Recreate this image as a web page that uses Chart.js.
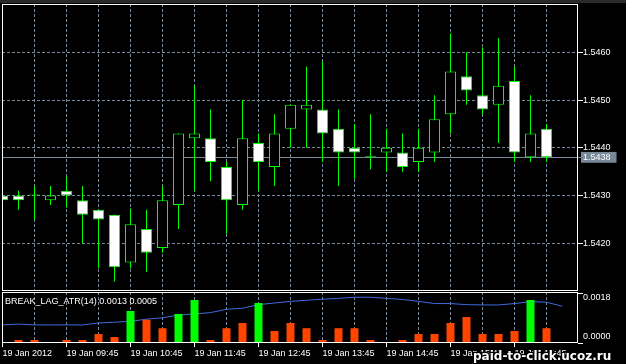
<!DOCTYPE html>
<html>
<head>
<meta charset="utf-8">
<script src="https://cdn.jsdelivr.net/npm/chart.js@4.4.1/dist/chart.umd.min.js"></script>
<style>
  html,body{margin:0;padding:0;background:#000;}
  #wrap{position:relative;width:626px;height:364px;overflow:hidden;background:#000;}
  #topbar{position:absolute;left:0;top:0;width:626px;height:3px;background:#2a2a2a;}
  canvas{position:absolute;left:0;}
  #wm{position:absolute;left:473px;top:349px;font:bold 12px "DejaVu Sans",sans-serif;color:#fff;
      text-shadow:1px 1px 0 #000,-1px -1px 0 #000,1px -1px 0 #000,-1px 1px 0 #000,2px 2px 0 #000;white-space:nowrap;}
</style>
</head>
<body>
<div id="wrap">
  <div id="topbar"></div>
  <canvas id="main" width="626" height="292" style="top:0"></canvas>
  <canvas id="sub" width="626" height="72" style="top:292px"></canvas>
  <div id="wm">paid-to-click.ucoz.ru</div>
</div>
<script>
// ---------------- data (M15 bars, 19 Jan 2012) ----------------
const timeLabels = ['19 Jan 2012','19 Jan 09:45','19 Jan 10:45','19 Jan 11:45','19 Jan 12:45',
                    '19 Jan 13:45','19 Jan 14:45','19 Jan 15:45','19 Jan 16:45'];
const labelSlots = [0,4,8,12,16,20,24,28,32];
const gridSlots  = [0,2,4,6,8,10,12,14,16,18,20,22,24,26,28,30,32,34];

const opens  = [1.5430,1.5430,1.5430,1.5429,1.5431,1.5429,1.5427,1.5426,1.5416,1.5423,
                1.5419,1.5428,1.5442,1.5442,1.5436,1.5428,1.5441,1.5436,1.5444,1.5448,
                1.5448,1.5444,1.5440,1.5438,1.5439,1.5439,1.5437,1.5439,1.5447,1.5455,
                1.5451,1.5449,1.5454,1.5438,1.5444];
const highs  = [1.5431,1.5431,1.5432,1.5432,1.5434,1.5432,1.5427,1.5426,1.54273,1.5427,
                1.5432,1.5443,1.5453,1.5448,1.5437,1.5450,1.5443,1.5447,1.5449,1.5457,
                1.5458,1.5448,1.5445,1.5447,1.5444,1.5443,1.5444,1.5451,1.5464,1.5460,
                1.5461,1.5463,1.5457,1.5451,1.5445];
const lows   = [1.5428,1.5427,1.5425,1.5428,1.54275,1.5420,1.54148,1.5412,1.54148,1.5414,
                1.5418,1.5423,1.5431,1.5433,1.5422,1.5427,1.5431,1.5432,1.5440,1.5440,
                1.5437,1.5432,1.54335,1.54355,1.5435,1.5435,1.5435,1.5437,1.5443,1.5449,
                1.5447,1.5441,1.5437,1.5437,1.5437];
const closes = [1.5429,1.5429,1.5430,1.5430,1.5430,1.5426,1.5425,1.5415,1.5424,1.5418,
                1.5429,1.5443,1.5443,1.5437,1.5429,1.5442,1.5437,1.5443,1.5449,1.5449,
                1.5443,1.5439,1.5439,1.5438,1.5440,1.5436,1.5440,1.5446,1.5456,1.5452,
                1.5448,1.5453,1.5439,1.5443,1.5438];

// BREAK_LAG_ATR(14) histogram buffers (green = up, orange = down)
const histUp   = [null,null,null,null,null,null,null,null,0.00117,null,
                  null,0.00106,0.00157,null,null,null,0.00146,null,null,null,
                  null,null,null,null,null,null,null,null,null,null,
                  null,null,null,0.00157,null];
const histDown = [null,0.00011,0.00011,null,0.00011,0.00011,0.00033,0.00022,null,0.00085,
                  0.00054,null,null,0.00011,0.00054,0.00073,null,0.00044,0.00073,0.00054,
                  0.00011,0.00054,0.00054,0.00011,null,0.00011,0.00033,0.00033,0.00073,0.00095,
                  0.00033,0.00033,0.00044,null,0.00054];
// ATR line, drawn with a one-bar shift (36 slots)
const atrLine = [0.00066,0.00069,0.00066,0.00066,0.00066,0.00066,0.00073,0.00076,0.00079,0.00087,
                 0.00092,0.00102,0.00106,0.00111,0.00123,0.00127,0.00140,0.00146,0.00152,0.00156,
                 0.00160,0.00163,0.00167,0.00167,0.00163,0.00159,0.00152,0.00144,0.00144,0.00140,
                 0.00139,0.00139,0.00144,0.00151,0.00149,0.00134];

const priceTicks = [1.5420,1.5430,1.5440,1.5450,1.5460];
const subTicks   = [0,0.0018];

// ---------------- styles ----------------
const LIME='#00FF00', ORANGE='#FF4500', BLUE='#4169E1', GRID='#778899', WHITE='#FFFFFF';
const FONT='"Liberation Sans", Arial, sans-serif';
const XMIN=-0.03125, XMAX=35.96875;
const lastClose = closes[closes.length-1];
const idx = opens.map((_,i)=>i);

const framePlugin = {
  id:'frame',
  afterDraw(chart){
    const {ctx, chartArea:a} = chart;
    ctx.save();
    ctx.strokeStyle=WHITE; ctx.lineWidth=1; ctx.setLineDash([]);
    ctx.strokeRect(a.left+0.5, a.top+0.5, a.right-a.left-1, a.bottom-a.top-1);
    ctx.restore();
  }
};
function noPad(s){ s.paddingTop=0; s.paddingBottom=0; s.paddingLeft=0; s.paddingRight=0; }

// ---------------- main price chart ----------------
new Chart(document.getElementById('main'), {
  type:'bar',
  data:{
    datasets:[
      {
        label:'body',
        data: idx.map(i=>({x:i, y:[opens[i], closes[i]]})),
        backgroundColor: ctx => {
          const i = ctx.dataIndex;
          if (i === undefined) return WHITE;
          return closes[i] > opens[i] ? '#000000' : (closes[i] < opens[i] ? WHITE : LIME);
        },
        borderColor: LIME, borderWidth:1, borderSkipped:false,
        barThickness:11, grouped:false, minBarLength:1, inflateAmount:0, order:1
      },
      {
        label:'wick',
        data: idx.map(i=>({x:i, y:[lows[i], highs[i]]})),
        backgroundColor: LIME, borderWidth:0,
        barThickness:1, grouped:false, inflateAmount:0, order:2
      }
    ]
  },
  options:{
    responsive:false, animation:false, devicePixelRatio:1,
    layout:{padding:{left:2, top:4, right:0, bottom:1}},
    plugins:{legend:{display:false}, tooltip:{enabled:false}},
    scales:{
      x:{
        type:'linear', min:XMIN, max:XMAX, offset:false,
        afterBuildTicks: s => { s.ticks = gridSlots.map(v=>({value:v})); },
        ticks:{display:false},
        grid:{color:GRID, drawTicks:false, offset:false},
        border:{display:false, dash:[3,2]},
        afterFit: s => { s.height = 0; noPad(s); }
      },
      y:{
        position:'right', min:1.5410010, max:1.5470115,
        afterBuildTicks: s => { s.ticks = priceTicks.concat([lastClose]).map(v=>({value:v})); },
        ticks:{
          color:WHITE, padding:0, autoSkip:false,
          font:{family:FONT, size:9},
          callback: v => Number(v).toFixed(4),
          showLabelBackdrop: ctx => !!(ctx.tick && ctx.tick.value === lastClose),
          backdropColor: GRID,
          backdropPadding:{left:2, right:6, top:0, bottom:0}
        },
        grid:{
          color: GRID,
          tickColor: ctx => (ctx.tick && ctx.tick.value === lastClose) ? GRID : WHITE,
          tickLength:5
        },
        border:{display:false, dash: ctx => (ctx.tick && ctx.tick.value === lastClose) ? [] : [3,2]},
        afterFit: s => { s.width = 48; noPad(s); }
      }
    }
  },
  plugins:[framePlugin]
});

// ---------------- indicator sub-window ----------------
const indName = 'BREAK_LAG_ATR(14)';
const lastHist = histDown[histDown.length-1] ?? histUp[histUp.length-1];
const indLabel = indName + ' ' + atrLine[atrLine.length-1].toFixed(4) + ' ' + lastHist.toFixed(4);

const labelPlugin = {
  id:'indlabel',
  afterDraw(chart){
    const {ctx, chartArea:a} = chart;
    ctx.save();
    ctx.fillStyle=WHITE; ctx.font='9px '+FONT; ctx.textBaseline='middle'; ctx.textAlign='left';
    ctx.fillText(indLabel, a.left+3, a.top+10);
    ctx.restore();
  }
};

new Chart(document.getElementById('sub'), {
  type:'bar',
  data:{
    datasets:[
      {label:'up', data: idx.map(i=>({x:i, y:histUp[i]})), backgroundColor:LIME,
       barThickness:8, grouped:false, inflateAmount:0, borderWidth:0, order:1},
      {label:'down', data: idx.map(i=>({x:i, y:histDown[i]})), backgroundColor:ORANGE,
       barThickness:8, grouped:false, inflateAmount:0, borderWidth:0, order:1},
      {type:'line', label:'atr', data: atrLine.map((v,i)=>({x:i, y:v})), borderColor:BLUE,
       borderWidth:1, pointRadius:0, tension:0, fill:false, order:3}
    ]
  },
  options:{
    responsive:false, animation:false, devicePixelRatio:1,
    layout:{padding:{left:2, top:0, right:0, bottom:0}},
    plugins:{legend:{display:false}, tooltip:{enabled:false}},
    scales:{
      x:{
        type:'linear', min:XMIN, max:XMAX, offset:false,
        afterBuildTicks: s => { s.ticks = gridSlots.map(v=>({value:v})); },
        ticks:{
          color:WHITE, autoSkip:false, maxRotation:0, minRotation:0, align:'start', padding:1,
          font:{family:FONT, size:9},
          callback: v => { const j = labelSlots.indexOf(v); return j >= 0 ? timeLabels[j] : ''; }
        },
        grid:{color:GRID, tickLength:4, offset:false,
              tickColor: ctx => (ctx.tick && labelSlots.includes(ctx.tick.value)) ? WHITE : 'rgba(0,0,0,0)'},
        border:{display:false, dash:[3,2]},
        afterFit: s => { s.height = 21; noPad(s); }
      },
      y:{
        position:'right', min:0, max:0.001862,
        afterBuildTicks: s => { s.ticks = subTicks.map(v=>({value:v})); },
        ticks:{
          color:WHITE, padding:0, autoSkip:false,
          font: ctx => ({family:FONT, size:9, lineHeight: (ctx.tick && ctx.tick.value === 0) ? 1.4 : 0.8}),
          callback: v => { const t = Number(v).toFixed(4); return v === 0 ? [t, ''] : ['', t]; }
        },
        grid:{drawOnChartArea:false, tickColor:WHITE, tickLength:5},
        border:{display:false},
        afterFit: s => { s.width = 48; noPad(s); }
      }
    }
  },
  plugins:[framePlugin, labelPlugin]
});
</script>
</body>
</html>
